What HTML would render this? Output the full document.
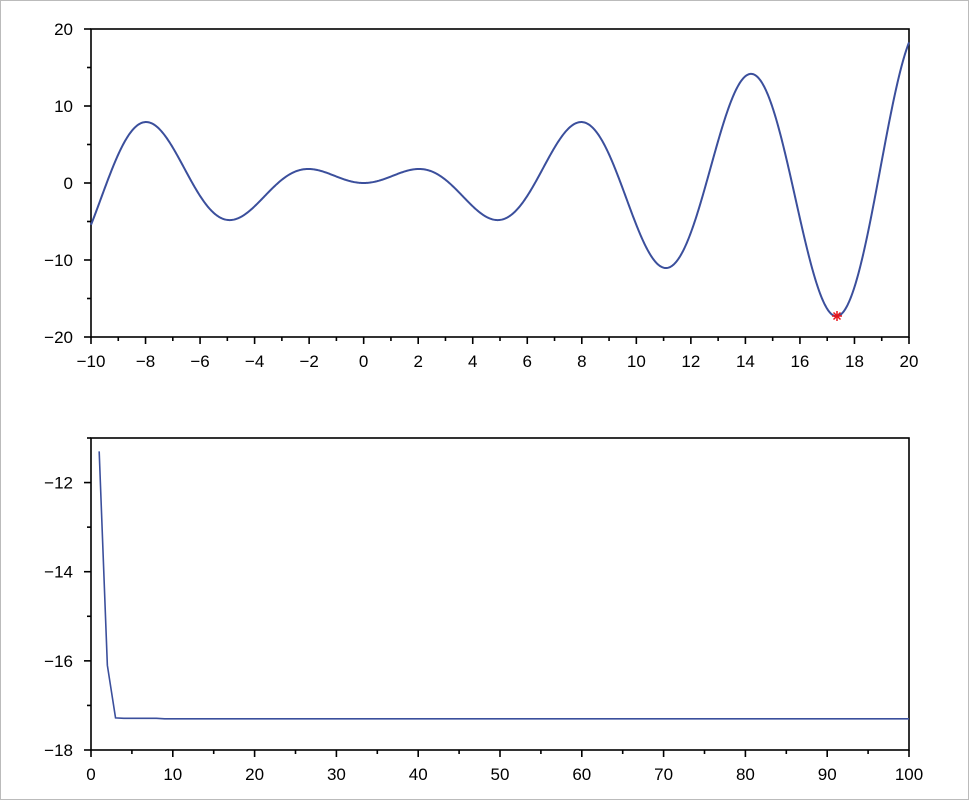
<!DOCTYPE html>
<html><head><style>
html,body{margin:0;padding:0;background:#fff}
svg{display:block}
text{font-family:"Liberation Sans",Arial,sans-serif;font-size:17px;fill:#000}
</style></head><body>
<svg id="s" width="969" height="800" xmlns="http://www.w3.org/2000/svg">
<rect x="0.5" y="0.5" width="968" height="799" fill="#fff" stroke="#bbb"/>
<g id="g" stroke="#000" stroke-width="1.6" fill="none"></g>
<g id="t"></g>
<path id="p1" fill="none" stroke="#3b4f9c" stroke-width="2"/>
<path id="p2" fill="none" stroke="#3b4f9c" stroke-width="1.6"/>
<g stroke="#e8151c" stroke-width="1.5">
<line x1="832" y1="316" x2="842" y2="316"/><line x1="837" y1="311" x2="837" y2="321"/>
<line x1="833.5" y1="312.5" x2="840.5" y2="319.5"/><line x1="840.5" y1="312.5" x2="833.5" y2="319.5"/>
</g>
</svg>
<script>
var g=document.getElementById('g'),t=document.getElementById('t'),ns='http://www.w3.org/2000/svg';
function L(a,b,c,d){var e=document.createElementNS(ns,'line');e.setAttribute('x1',a);e.setAttribute('y1',b);e.setAttribute('x2',c);e.setAttribute('y2',d);g.appendChild(e);}
function T(x,y,s,anc){var e=document.createElementNS(ns,'text');e.setAttribute('x',x);e.setAttribute('y',y);e.setAttribute('text-anchor',anc);e.textContent=s;t.appendChild(e);}
function axes(x0,x1,y0,y1,xmin,xmax,xstep,xminor,ymin,ymax,ystep,yminor){
 g.insertAdjacentHTML('beforeend','<rect x="'+x0+'" y="'+y0+'" width="'+(x1-x0)+'" height="'+(y1-y0)+'"/>');
 var sx=(x1-x0)/(xmax-xmin),sy=(y1-y0)/(ymax-ymin);
 for(var v=xmin;v<=xmax+1e-9;v+=xminor){var px=x0+(v-xmin)*sx;var maj=Math.abs(Math.round(v/xstep)*xstep-v)<1e-9;L(px,y1,px,y1+(maj?7:4));if(maj)T(px,y1+30,(v<0?'\u2212'+(-v):''+v),'middle');}
 var ys=Math.ceil(ymin/yminor)*yminor;
 for(var v=ys;v<=ymax+1e-9;v+=yminor){var py=y1-(v-ymin)*sy;var maj=Math.abs(Math.round(v/ystep)*ystep-v)<1e-9;L(x0,py,x0-(maj?7:4),py);if(maj)T(x0-18,py+6,(v<0?'\u2212'+(-Math.round(v)):''+Math.round(v)),'end');}
}
axes(91,909,29,337,-10,20,2,1,-20,20,10,5);
axes(91,909,438,750,0,100,10,5,-18,-11,2,1);
var d='';for(var i=0;i<=1200;i++){var x=-10+30*i/1200;var y=x*Math.sin(x);d+=(i?'L':'M')+(91+(x+10)*818/30).toFixed(2)+','+(337-(y+20)*7.7).toFixed(2);}
document.getElementById('p1').setAttribute('d',d);
var vals=[-11.3,-16.1,-17.28,-17.29,-17.29,-17.29,-17.29,-17.29,-17.3];
d='';for(var i=1;i<=100;i++){var v=i<=vals.length?vals[i-1]:-17.3;d+=(i>1?'L':'M')+(91+i*8.18).toFixed(2)+','+(750-(v+18)*44.57).toFixed(2);}
document.getElementById('p2').setAttribute('d',d);
</script>
</body></html>
